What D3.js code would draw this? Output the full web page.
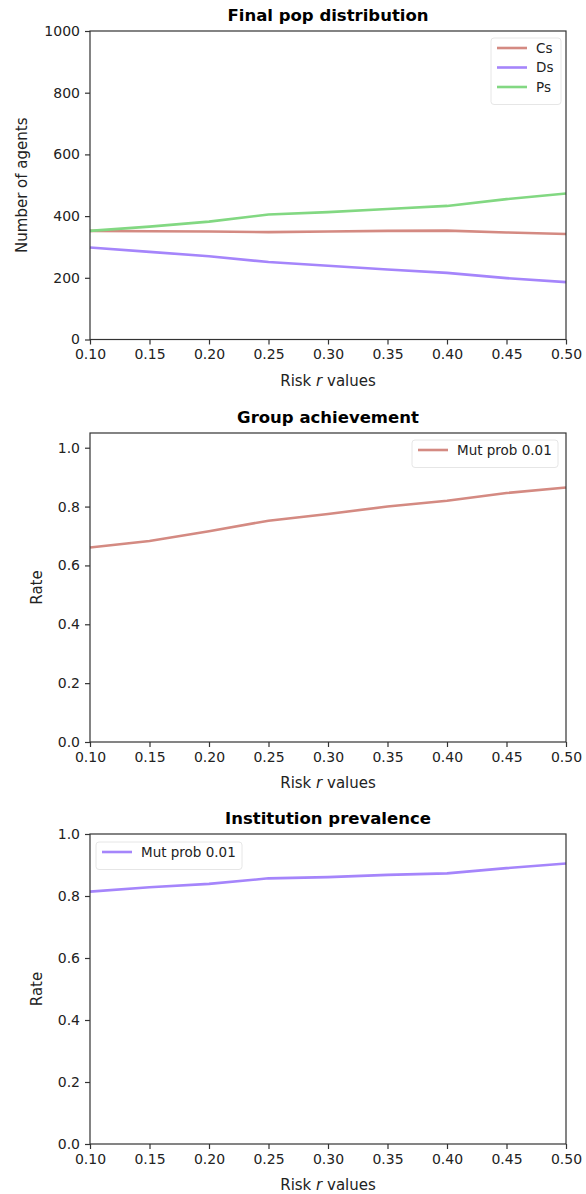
<!DOCTYPE html>
<html>
<head>
<meta charset="utf-8">
<style>
  body { margin: 0; background: #fff; }
  svg  { display: block; font-family: "DejaVu Sans", sans-serif; }
  .tick text { fill: #222; }
</style>
<script src="https://cdn.jsdelivr.net/npm/d3@7"></script>
</head>
<body>
<script>

// values
var riskValues = [0.10, 0.15, 0.20, 0.25, 0.30, 0.35, 0.40, 0.45, 0.50];
var csCounts   = [352, 351, 350, 348, 350, 352, 353, 347, 342];
var dsCounts   = [298, 284, 270, 251, 239, 227, 216, 199, 186];
var psCounts   = [352, 366, 382, 405, 413, 423, 433, 455, 473];
var groupAchievement      = [0.661, 0.683, 0.716, 0.752, 0.775, 0.800, 0.820, 0.846, 0.865];
var institutionPrevalence = [0.814, 0.828, 0.839, 0.857, 0.861, 0.868, 0.873, 0.890, 0.905];

var xTicks    = [0.10, 0.15, 0.20, 0.25, 0.30, 0.35, 0.40, 0.45, 0.50];
var popTicks  = [0, 200, 400, 600, 800, 1000];
var rateTicks = [0, 0.2, 0.4, 0.6, 0.8, 1.0];

var colors = {Cs: "#d48a82", Ds: "#a585fb", Ps: "#82d882"};

var W = 586, H = 1194;
var svg = d3.select("body").append("svg")
    .attr("width", W)
    .attr("height", H);

var left = 90, right = 566;

var panels = [
  { title: "Final pop distribution", top: 31, bottom: 339.5, ymax: 1000, ticks: popTicks,
    fmt: d3.format("d"), ylabel: "Number of agents", ylabelX: 22,
    series: [
      {name: "Cs", values: csCounts, color: colors.Cs},
      {name: "Ds", values: dsCounts, color: colors.Ds},
      {name: "Ps", values: psCounts, color: colors.Ps}],
    legend: {x: 491, y: 38, w: 70, rowH: 19.5} },
  { title: "Group achievement", top: 433, bottom: 742, ymax: 1.05, ticks: rateTicks,
    fmt: d3.format(".1f"), ylabel: "Rate", ylabelX: 37,
    series: [{name: "Mut prob 0.01", values: groupAchievement, color: colors.Cs}],
    legend: {x: 412, y: 440, w: 146, rowH: 19.5} },
  { title: "Institution prevalence", top: 834, bottom: 1144, ymax: 1.0, ticks: rateTicks,
    fmt: d3.format(".1f"), ylabel: "Rate", ylabelX: 37,
    series: [{name: "Mut prob 0.01", values: institutionPrevalence, color: colors.Ds}],
    legend: {x: 96, y: 842, w: 146, rowH: 19.5} }
];

var x = d3.scaleLinear().domain([0.10, 0.50]).range([left, right]);

panels.forEach(function(p) {
  var y = d3.scaleLinear().domain([0, p.ymax]).range([p.bottom, p.top]);
  var g = svg.append("g");

  // title
  g.append("text")
      .attr("x", (left + right) / 2)
      .attr("y", p.top - 10)
      .attr("text-anchor", "middle")
      .attr("font-size", 16.5)
      .attr("font-weight", "bold")
      .attr("fill", "#000")
      .text(p.title);

  // lines
  var line = d3.line()
      .x(function(d, i) { return x(riskValues[i]); })
      .y(function(d) { return y(d); });
  p.series.forEach(function(s) {
    g.append("path")
        .datum(s.values)
        .attr("fill", "none")
        .attr("stroke", s.color)
        .attr("stroke-width", 2.6)
        .attr("d", line);
  });

  // frame
  g.append("rect")
      .attr("x", left).attr("y", p.top)
      .attr("width", right - left).attr("height", p.bottom - p.top)
      .attr("fill", "none").attr("stroke", "#333").attr("stroke-width", 1.2);

  // axes
  var xa = g.append("g")
      .attr("transform", "translate(0," + p.bottom + ")")
      .call(d3.axisBottom(x).tickValues(xTicks).tickFormat(d3.format(".2f")).tickSize(5).tickPadding(5));
  var ya = g.append("g")
      .attr("transform", "translate(" + left + ",0)")
      .call(d3.axisLeft(y).tickValues(p.ticks).tickFormat(p.fmt).tickSize(5).tickPadding(5));
  [xa, ya].forEach(function(a) {
    a.select(".domain").remove();
    a.selectAll(".tick line").attr("stroke", "#333").attr("stroke-width", 1.2);
    a.selectAll(".tick text").attr("font-size", 14).attr("font-family", "DejaVu Sans");
  });

  // x label
  var xl = g.append("text")
      .attr("x", (left + right) / 2)
      .attr("y", p.bottom + 46)
      .attr("text-anchor", "middle")
      .attr("font-size", 15)
      .attr("fill", "#222");
  xl.append("tspan").text("Risk ");
  xl.append("tspan").attr("font-style", "italic").text("r");
  xl.append("tspan").text(" values");

  // y label
  g.append("text")
      .attr("transform", "translate(" + p.ylabelX + "," + (p.top + p.bottom) / 2 + ") rotate(-90)")
      .attr("text-anchor", "middle")
      .attr("dy", "0.35em")
      .attr("font-size", 15)
      .attr("fill", "#222")
      .text(p.ylabel);

  // legend
  var L = p.legend;
  var lg = g.append("g").attr("transform", "translate(" + L.x + "," + L.y + ")");
  lg.append("rect")
      .attr("width", L.w)
      .attr("height", p.series.length * L.rowH + 8)
      .attr("rx", 3)
      .attr("fill", "#fff").attr("fill-opacity", 0.8)
      .attr("stroke", "#e6e6e6");
  p.series.forEach(function(s, i) {
    var cy = 10 + i * L.rowH;
    lg.append("line")
        .attr("x1", 6).attr("x2", 36)
        .attr("y1", cy).attr("y2", cy)
        .attr("stroke", s.color).attr("stroke-width", 2.6);
    lg.append("text")
        .attr("x", 45).attr("y", cy)
        .attr("dy", "0.35em")
        .attr("font-size", 13.5)
        .attr("fill", "#222")
        .text(s.name);
  });
});

</script>
</body>
</html>
